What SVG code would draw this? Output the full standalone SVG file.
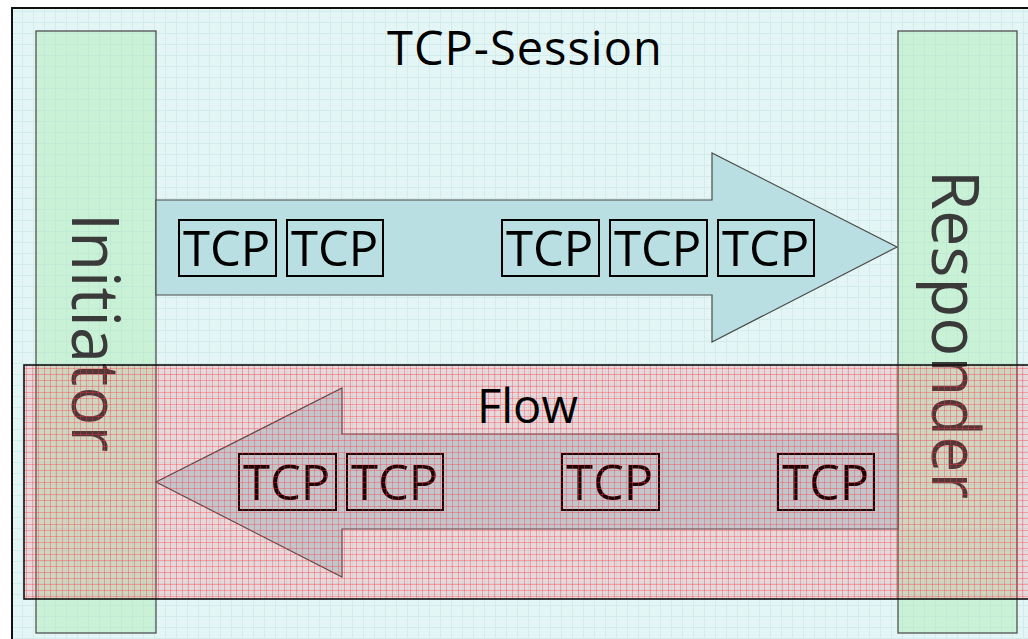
<svg xmlns="http://www.w3.org/2000/svg" width="1028" height="639" viewBox="0 0 1028 639">
  <defs>
    <pattern id="grid" width="11" height="11" patternUnits="userSpaceOnUse">
      <rect width="11" height="11" fill="#e4f5f5"/>
      <path d="M0 0.5H11M0.5 0V11" stroke="#d2ecec" stroke-width="1"/>
    </pattern>
    <pattern id="greenGrid" width="11" height="11" patternUnits="userSpaceOnUse">
      <rect width="11" height="11" fill="#c9f1d6"/>
      <path d="M0 0.5H11M0.5 0V11" stroke="#c0e9d6" stroke-width="1"/>
    </pattern>
    <pattern id="redDots" width="6" height="6" patternUnits="userSpaceOnUse">
      <rect width="6" height="6" fill="#ff2030" fill-opacity="0.13"/>
      <path d="M0 2.5H6M2.5 0V6" stroke="#ff3040" stroke-opacity="0.35" stroke-width="1"/>
    </pattern>
  </defs>
  <style>
    .txt { font-family: "Open Sans", "DejaVu Sans", sans-serif; fill: #000; }
    .vtxt { font-family: "Open Sans", "DejaVu Sans", sans-serif; fill: #3a3a3a; font-size: 65px; }
    .bar { fill: url(#greenGrid); stroke: #505050; stroke-width: 1.3; }
    .arrow { fill: #b9dfe2; stroke: #4a4a4a; stroke-width: 1.2; }
    .pkt rect { fill: none; stroke: #000; stroke-width: 2; }
    .pkt text { font-family: "Open Sans", "DejaVu Sans", sans-serif; font-size: 49px; fill: #000; }
  </style>

  <g id="session">
    <rect x="12" y="8" width="1030" height="640" fill="url(#grid)" stroke="#111" stroke-width="2"/>
    <text class="txt" x="387" y="65" font-size="47" letter-spacing="1">TCP-Session</text>
  </g>

  <g id="initiator">
    <rect class="bar" x="36" y="31" width="120" height="602"/>
    <text class="vtxt" transform="translate(72,213) rotate(90)">Initiator</text>
  </g>

  <g id="responder">
    <rect class="bar" x="898" y="31" width="119" height="602"/>
    <text class="vtxt" transform="translate(932,170) rotate(90)">Responder</text>
  </g>

  <g id="connectors">
    <polygon class="arrow" points="156,200 712,200 712,153 897,247 712,342 712,295 156,295"/>
    <polygon class="arrow" points="898,434 342,434 342,388 156,482 342,577 342,529 898,529"/>
  </g>

  <g id="packets-forward" class="pkt">
    <g id="pkt-f1"><rect x="179" y="220" width="97" height="56"/><text x="183" y="266">TCP</text></g>
    <g id="pkt-f2"><rect x="287" y="220" width="96" height="56"/><text x="291" y="266">TCP</text></g>
    <g id="pkt-f3"><rect x="502" y="220" width="97" height="56"/><text x="506" y="266">TCP</text></g>
    <g id="pkt-f4"><rect x="610" y="220" width="97" height="56"/><text x="614" y="266">TCP</text></g>
    <g id="pkt-f5"><rect x="718" y="220" width="96" height="56"/><text x="722" y="266">TCP</text></g>
  </g>

  <g id="packets-reverse" class="pkt">
    <g id="pkt-r1"><rect x="239" y="454" width="97" height="56"/><text x="243" y="500">TCP</text></g>
    <g id="pkt-r2"><rect x="347" y="454" width="96" height="56"/><text x="351" y="500">TCP</text></g>
    <g id="pkt-r3"><rect x="562" y="454" width="97" height="56"/><text x="566" y="500">TCP</text></g>
    <g id="pkt-r4"><rect x="778" y="454" width="96" height="56"/><text x="782" y="500">TCP</text></g>
  </g>

  <g id="flow">
    <rect x="24" y="365" width="1010" height="234" fill="url(#redDots)" stroke="#111" stroke-width="1.6"/>
    <text class="txt" x="477" y="423" font-size="47">Flow</text>
  </g>
</svg>
